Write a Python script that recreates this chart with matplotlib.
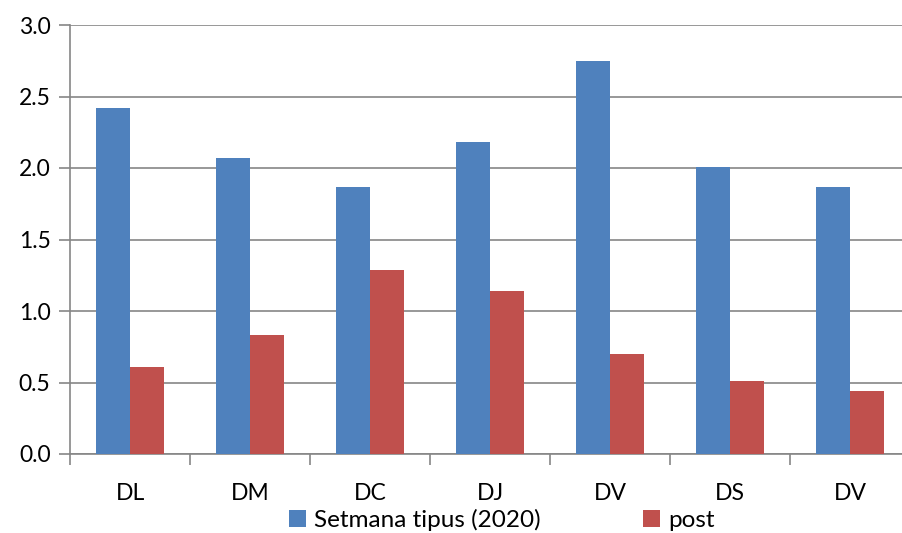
import matplotlib
matplotlib.use("Agg")
import matplotlib.pyplot as plt
from matplotlib.ticker import FixedLocator
import numpy as np

categories = ["DL", "DM", "DC", "DJ", "DV", "DS", "DV"]
setmana = [2.42, 2.07, 1.87, 2.18, 2.75, 2.01, 1.87]
post = [0.61, 0.83, 1.29, 1.14, 0.70, 0.51, 0.44]
series_names = ["Setmana tipus (2020)", "post"]
colors = ["#4F81BD", "#C0504D"]

plt.rcParams['font.family'] = ['Lato', 'DejaVu Sans']

fig = plt.figure(figsize=(9.02, 5.33), dpi=100)
ax = fig.add_axes([70/902, 79/533, 840/902, 429/533])

x = np.arange(len(categories))
w = 1/3.5
ax.bar(x - w/2, setmana, width=w, color=colors[0], label=series_names[0], zorder=3)
ax.bar(x + w/2, post, width=w, color=colors[1], label=series_names[1], zorder=3)

ax.set_xlim(-0.5, len(categories) - 0.5)
ax.set_ylim(0, 3.0)
yt = np.arange(0, 3.01, 0.5)
ax.set_yticks(yt)
ax.set_yticklabels([f"{v:.1f}" for v in yt])
ax.grid(axis='y', color='#868686', linewidth=1.2, zorder=0)

ax.set_xticks(x)
ax.set_xticklabels(categories)
ax.xaxis.set_minor_locator(FixedLocator(np.arange(-0.5, len(categories), 1.0)))
ax.tick_params(axis='x', which='major', length=0, pad=21, labelsize=16.5)
ax.tick_params(axis='x', which='minor', length=8, width=1.2, color='#868686', direction='out')
ax.tick_params(axis='y', length=8, width=1.2, color='#868686', labelsize=16.5, pad=6)

for s in ['top', 'right']:
    ax.spines[s].set_visible(False)
for s in ['left', 'bottom']:
    ax.spines[s].set_color('#868686')
    ax.spines[s].set_linewidth(1.2)

handles, labels = ax.get_legend_handles_labels()
fig.legend(handles, labels, loc='center', bbox_to_anchor=(502/902, 1 - 520/533), ncol=2,
           frameon=False, fontsize=17.5, handlelength=0.7, handleheight=0.7,
           handletextpad=0.35, columnspacing=4.2, borderaxespad=0)

fig.savefig("out.png", dpi=100)
